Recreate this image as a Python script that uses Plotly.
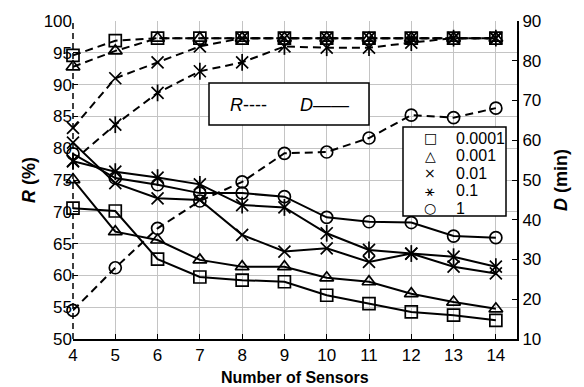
import plotly.graph_objects as go

sensors = [4, 5, 6, 7, 8, 9, 10, 11, 12, 13, 14]
labels = ["0.0001", "0.001", "0.01", "0.1", "1"]
symbols = ["square-open", "triangle-up-open", "x-thin-open", "x-thin-open", "circle-open"]
legend_glyphs = ["□", "△", "×", "⚹", "○"]
legend_glyph_sizes = [14, 14, 14, 16, 14]

# R (%) - dashed, left axis
R_0001 = [94.6, 96.9, 97.3, 97.3, 97.3, 97.3, 97.3, 97.3, 97.3, 97.3, 97.3]
R_001 = [92.8, 95.3, 97.3, 97.3, 97.3, 97.3, 97.3, 97.3, 97.3, 97.3, 97.3]
R_01 = [83.2, 91.0, 93.5, 96.0, 97.3, 97.3, 97.3, 97.3, 97.3, 97.3, 97.3]
R_1e1 = [78.0, 83.7, 88.7, 92.1, 93.5, 96.0, 95.8, 95.8, 96.6, 97.3, 97.3]
R_1 = [54.5, 61.2, 67.4, 71.7, 74.7, 79.2, 79.4, 81.6, 85.2, 84.8, 86.3]

# D (min) - solid, right axis
D_0001 = [42.9, 42.2, 30.1, 25.6, 24.8, 24.4, 21.0, 18.9, 16.8, 16.0, 14.7]
D_001 = [50.1, 37.0, 34.9, 29.9, 28.2, 28.2, 25.4, 24.4, 21.4, 19.3, 17.6]
D_01 = [59.4, 49.2, 45.4, 45.0, 36.2, 32.0, 32.8, 29.4, 31.5, 28.2, 26.5]
D_1e1 = [54.7, 52.1, 50.6, 48.9, 43.7, 43.1, 36.6, 32.4, 31.5, 30.7, 28.2]
D_1 = [56.6, 50.5, 48.8, 46.7, 46.7, 45.8, 40.6, 39.5, 39.3, 35.9, 35.5]

R_series = [R_0001, R_001, R_01, R_1e1, R_1]
D_series = [D_0001, D_001, D_01, D_1e1, D_1]

FONT = "Liberation Sans, Arial, sans-serif"
MSIZE = 12
MLW = 1.7
fig = go.Figure()

def add_series(vals, sym, idx, axis, dash):
    fig.add_trace(go.Scatter(
        x=sensors, y=vals, mode="lines+markers", yaxis=axis,
        line=dict(color="black", width=2, dash=dash),
        marker=dict(symbol=sym, size=MSIZE, color="black", line=dict(width=MLW, color="black")),
        showlegend=False, cliponaxis=False))
    if idx == 3:  # star marker: x with a vertical bar
        fig.add_trace(go.Scatter(
            x=sensors, y=vals, mode="markers", yaxis=axis,
            marker=dict(symbol="line-ns-open", size=MSIZE, color="black",
                        line=dict(width=MLW, color="black")),
            showlegend=False, cliponaxis=False))

for i, (vals, sym) in enumerate(zip(R_series, symbols)):
    add_series(vals, sym, i, "y", "8px,5px")
for i, (vals, sym) in enumerate(zip(D_series, symbols)):
    add_series(vals, sym, i, "y2", None)

# The page adds an 8px body margin, so the figure is laid out 8px smaller
# and all page-pixel positions are shifted by that offset.
OFF = 8
W, H = 584 - OFF, 387 - OFF
L, T = 73 - OFF, 21 - OFF
R_ = W - (517 - OFF)
B = H - (339 - OFF)
pw, ph = W - L - R_, H - T - B
px = lambda x: (x - OFF - L) / pw
py = lambda y: 1 - (y - OFF - T) / ph

annotations = [
    dict(xref="paper", yref="paper", x=px(248), y=py(105), text="<i>R</i>----",
         showarrow=False, xanchor="center", yanchor="middle", font=dict(size=18, family=FONT)),
    dict(xref="paper", yref="paper", x=px(324), y=py(105), text="<i>D</i>——",
         showarrow=False, xanchor="center", yanchor="middle", font=dict(size=18, family=FONT)),
    dict(xref="paper", yref="paper", x=0.5, y=py(377), text="<b>Number of Sensors</b>",
         showarrow=False, xanchor="center", yanchor="middle", font=dict(size=16, family=FONT)),
]
row_y = [138, 155.5, 173, 190.5, 208]
for lab, g, gs, yy in zip(labels, legend_glyphs, legend_glyph_sizes, row_y):
    annotations.append(dict(xref="paper", yref="paper", x=px(430), y=py(yy), text=g,
                            showarrow=False, xanchor="center", yanchor="middle",
                            font=dict(size=gs, family="DejaVu Sans")))
    annotations.append(dict(xref="paper", yref="paper", x=px(454), y=py(yy), text=lab,
                            showarrow=False, xanchor="left", yanchor="middle",
                            font=dict(size=16, family=FONT)))

fig.update_layout(
    width=W, height=H,
    margin=dict(l=L, r=R_, t=T, b=B, autoexpand=False),
    paper_bgcolor="white", plot_bgcolor="white",
    font=dict(family=FONT, size=17, color="black"),
    showlegend=False,
    xaxis=dict(
        range=[4, 14.5], tickmode="array", tickvals=sensors,
        showgrid=True, gridcolor="#c4c4c4", gridwidth=1,
        showline=True, linecolor="black", linewidth=2,
        ticks="inside", ticklen=5, tickcolor="black",
        zeroline=False,
    ),
    yaxis=dict(
        range=[50, 100], dtick=5,
        showgrid=True, gridcolor="#c4c4c4", gridwidth=1,
        showline=False, ticks="inside", ticklen=5, tickcolor="black",
        zeroline=False,
        title=dict(text="<b><i>R</i> (%)</b>", font=dict(size=18), standoff=3),
    ),
    yaxis2=dict(
        range=[10, 90], dtick=10, overlaying="y", side="right",
        showgrid=False, showline=True, linecolor="black", linewidth=2,
        ticks="inside", ticklen=5, tickcolor="black", zeroline=False,
        title=dict(text="<b><i>D</i> (min)</b>", font=dict(size=18), standoff=14),
    ),
    shapes=[
        dict(type="line", xref="paper", yref="paper", x0=0, x1=0, y0=0, y1=1,
             line=dict(color="black", width=1.5, dash="6px,4px"), layer="above"),
        dict(type="rect", xref="paper", yref="paper", x0=px(209), x1=px(369), y0=py(125), y1=py(83),
             line=dict(color="black", width=1.5), fillcolor="white", layer="above"),
        dict(type="rect", xref="paper", yref="paper", x0=px(403), x1=px(506), y0=py(216), y1=py(127),
             line=dict(color="black", width=1.5), fillcolor="white", layer="above"),
    ],
    annotations=annotations,
)

fig.write_html("out.html")
